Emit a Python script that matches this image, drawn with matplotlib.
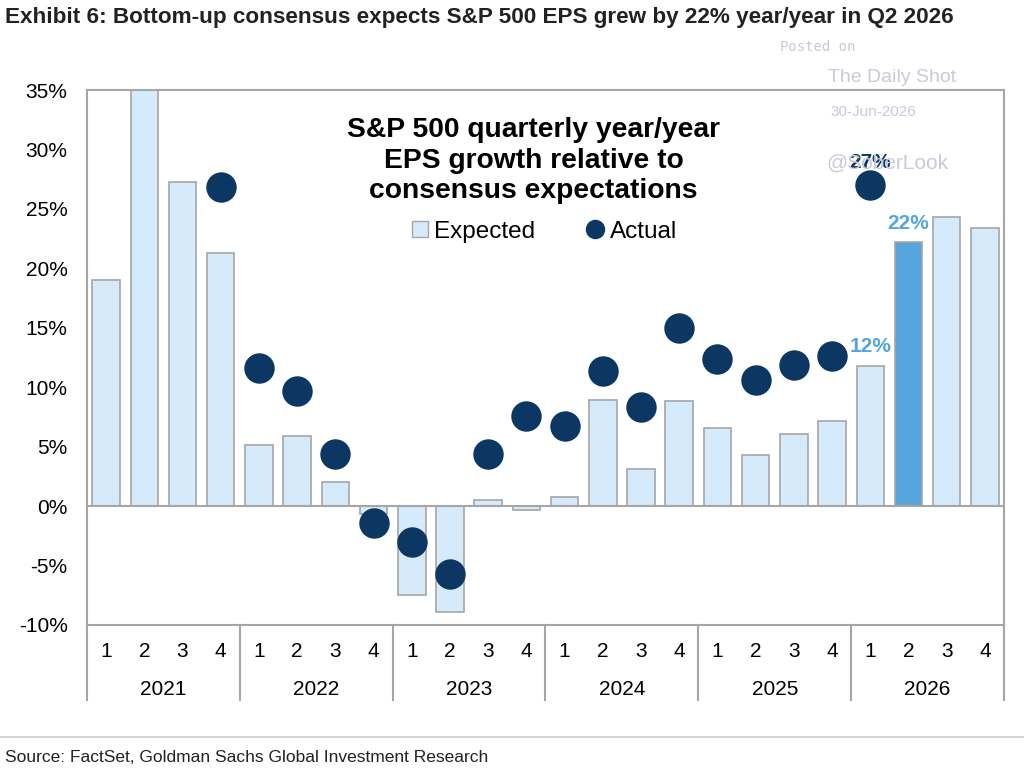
import matplotlib.pyplot as plt
from matplotlib.lines import Line2D
import numpy as np

# data (yoy EPS growth, %)
years = ['2021', '2022', '2023', '2024', '2025', '2026']
quarters = ['1', '2', '3', '4']
expected = [19.0, 35.0, 27.3, 21.3,
            5.1, 5.9, 2.0, -0.7,
            -7.5, -8.9, 0.5, -0.3,
            0.8, 8.9, 3.1, 8.8,
            6.6, 4.3, 6.1, 7.2,
            11.8, 22.2, 24.3, 23.4]
actual = [np.nan, np.nan, np.nan, 26.8,
          11.6, 9.7, 4.4, -1.4,
          -3.0, -5.7, 4.4, 7.6,
          6.7, 11.4, 8.3, 15.0,
          12.4, 10.6, 11.9, 12.6,
          27.0, np.nan, np.nan, np.nan]
highlight = 21  # Q2 2026

light = '#d5eafa'
mid = '#56a5df'
navy = '#0b3762'
grey = '#a6a6a6'

plt.rcParams['font.family'] = ['Liberation Sans', 'DejaVu Sans']

fig = plt.figure(figsize=(10.24, 7.73), dpi=100)
ax = fig.add_axes([87 / 1024, 1 - 625 / 773, (1004 - 87) / 1024, 535 / 773])

x = np.arange(len(expected))
cols = [mid if i == highlight else light for i in x]
ax.bar(x, expected, width=0.72, color=cols, edgecolor=grey, linewidth=1.2, zorder=2)
ax.axhline(0, color=grey, lw=1.5, zorder=3)
ax.scatter(x, actual, s=480, color=navy, zorder=4, linewidths=0)

ax.set_xlim(-0.5, len(expected) - 0.5)
ax.set_ylim(-10, 35)
ax.set_yticks(range(-10, 36, 5))
ax.set_yticklabels(['%d%%' % v for v in range(-10, 36, 5)], fontsize=15)
ax.tick_params(axis='y', length=0, pad=14)
ax.set_xticks([])
for s in ax.spines.values():
    s.set_color(grey)
    s.set_linewidth(1.5)

# two-level category axis
tr = ax.get_xaxis_transform()
for i in x:
    ax.text(i, -0.05, quarters[i % 4], transform=tr, ha='center', va='center', fontsize=15)
for k, yr in enumerate(years):
    ax.text(k * 4 + 1.5, -0.12, yr, transform=tr, ha='center', va='center', fontsize=15)
for b in np.arange(-0.5, len(expected), 4):
    ax.plot([b, b], [0, -0.14], transform=tr, color=grey, lw=1.5, clip_on=False)

# labels on the last points
ax.text(20, 27.0 + 1.1, '27%', ha='center', va='bottom', color=navy, fontsize=15, fontweight='bold')
ax.text(20, expected[20] + 0.8, '12%', ha='center', va='bottom', color=mid, fontsize=15, fontweight='bold')
ax.text(21, expected[21] + 0.8, '22%', ha='center', va='bottom', color=mid, fontsize=15, fontweight='bold')

# inner title + legend
ax.text(0.487, 0.95, 'S&P 500 quarterly year/year\nEPS growth relative to\nconsensus expectations',
        transform=ax.transAxes, ha='center', va='top', fontsize=20.3, fontweight='bold',
        linespacing=1.24)
handles = [Line2D([], [], marker='s', ls='', markersize=12, markerfacecolor=light,
                  markeredgecolor=grey, label='Expected'),
           Line2D([], [], marker='o', ls='', markersize=13, color=navy, label='Actual')]
ax.legend(handles=handles, ncol=2, frameon=False, fontsize=17.5, loc='center',
          bbox_to_anchor=(0.497, 0.735), columnspacing=2.0, handletextpad=0.15, handlelength=0.9)

# header / footer
fig.text(5 / 1024, 1 - 18 / 773, 'Exhibit 6: Bottom-up consensus expects S&P 500 EPS grew by 22% year/year in Q2 2026',
         ha='left', va='center', fontsize=16.2, fontweight='bold', color='#222222')
fig.add_artist(Line2D([0, 1], [1 - 737 / 773] * 2, color='#cccccc', lw=1.2))
fig.text(5 / 1024, 1 - 757 / 773, 'Source: FactSet, Goldman Sachs Global Investment Research',
         ha='left', va='center', fontsize=12.5, color='#222222')

# watermark
wm = '#c9c9dc'
fig.text(818 / 1024, 1 - 47 / 773, 'Posted on', ha='center', va='center', fontsize=10,
         color=wm, family='DejaVu Sans Mono')
fig.text(892 / 1024, 1 - 77 / 773, 'The Daily Shot', ha='center', va='center', fontsize=14, color=wm)
fig.text(873 / 1024, 1 - 112 / 773, '30-Jun-2026', ha='center', va='center', fontsize=11, color=wm)
fig.text(887 / 1024, 1 - 163 / 773, '@SoberLook', ha='center', va='center', fontsize=15, color=wm, zorder=0)

fig.savefig('out.png', dpi=100)
